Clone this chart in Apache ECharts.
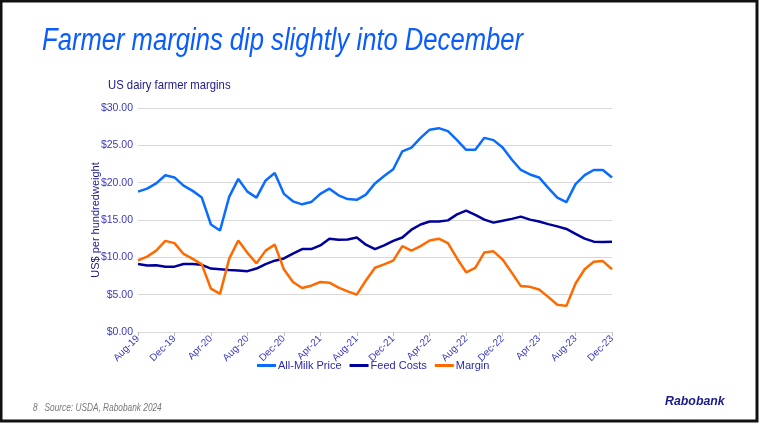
<!DOCTYPE html>
<html>
<head>
<meta charset="utf-8">
<script src="https://cdn.jsdelivr.net/npm/echarts@6/dist/echarts.min.js"></script>
<style>
  html, body { margin: 0; padding: 0; background: #fff; }
  #chart { width: 761px; height: 425px; }
</style>
</head>
<body>
<div id="chart"></div>
<script>
// monthly, Aug-19 .. Dec-23
var months = [
    'Aug-19','Sep-19','Oct-19','Nov-19','Dec-19',
    'Jan-20','Feb-20','Mar-20','Apr-20','May-20','Jun-20','Jul-20','Aug-20','Sep-20','Oct-20','Nov-20','Dec-20',
    'Jan-21','Feb-21','Mar-21','Apr-21','May-21','Jun-21','Jul-21','Aug-21','Sep-21','Oct-21','Nov-21','Dec-21',
    'Jan-22','Feb-22','Mar-22','Apr-22','May-22','Jun-22','Jul-22','Aug-22','Sep-22','Oct-22','Nov-22','Dec-22',
    'Jan-23','Feb-23','Mar-23','Apr-23','May-23','Jun-23','Jul-23','Aug-23','Sep-23','Oct-23','Nov-23','Dec-23'
];
var milkPrice = [
    18.8, 19.2, 19.9, 21.0, 20.7,
    19.6, 18.9, 18.0, 14.4, 13.6, 18.1, 20.5, 18.8, 18.0, 20.3, 21.3, 18.5,
    17.5, 17.1, 17.4, 18.5, 19.2, 18.3, 17.8, 17.7, 18.4, 19.9, 20.9, 21.8,
    24.2, 24.7, 26.0, 27.1, 27.3, 26.9, 25.7, 24.4, 24.4, 26.0, 25.7, 24.7,
    23.1, 21.7, 21.1, 20.7, 19.3, 18.0, 17.4, 19.8, 21.0, 21.7, 21.7, 20.7
];
var feedCosts = [
    9.1, 8.9, 8.95, 8.75, 8.75,
    9.1, 9.1, 9.0, 8.5, 8.4, 8.3, 8.25, 8.15, 8.5, 9.1, 9.55, 9.85,
    10.5, 11.1, 11.1, 11.6, 12.5, 12.35, 12.4, 12.65, 11.7, 11.1, 11.6, 12.2,
    12.65, 13.7, 14.4, 14.8, 14.8, 14.95, 15.75, 16.25, 15.7, 15.05, 14.65, 14.9,
    15.15, 15.45, 15.05, 14.8, 14.45, 14.15, 13.8, 13.15, 12.5, 12.1, 12.05, 12.1
];
var margin = [
    9.6, 10.1, 10.9, 12.2, 11.9,
    10.45, 9.8, 9.05, 5.8, 5.1, 9.8, 12.25, 10.6, 9.2, 10.9, 11.7, 8.4,
    6.7, 5.9, 6.2, 6.7, 6.6, 5.95, 5.45, 5.0, 6.9, 8.6, 9.05, 9.55,
    11.5, 10.9, 11.5, 12.25, 12.5, 11.9, 9.85, 8.0, 8.6, 10.65, 10.8, 9.7,
    7.95, 6.15, 6.05, 5.7, 4.7, 3.65, 3.5, 6.5, 8.4, 9.4, 9.5, 8.4
];

var font = 'Arial, "Liberation Sans", sans-serif';
var chart = echarts.init(document.getElementById('chart'));

var option = {
    backgroundColor: '#ffffff',
    animation: false,
    textStyle: { fontFamily: font },
    graphic: [
        { type: 'rect', shape: { x: 1, y: 1, width: 756, height: 420 },
          style: { fill: 'none', stroke: '#111', lineWidth: 3 }, silent: true },
        // title, squeezed to match the condensed face
        { type: 'text', x: 42, y: 26, scaleX: 0.826, scaleY: 1,
          style: { text: 'Farmer margins dip slightly into December', fill: '#0a5cff',
                   fontSize: 31, fontStyle: 'italic', fontFamily: font } },
        { type: 'text', x: 108, y: 79, scaleX: 0.87,
          style: { text: 'US dairy farmer margins', fill: '#1a1a8a', fontSize: 13, fontFamily: font } },
        { type: 'text', x: 33, y: 403, scaleX: 0.83,
          style: { text: '8   Source: USDA, Rabobank 2024', fill: '#777', fontSize: 10, fontStyle: 'italic', fontFamily: font } },
        { type: 'text', x: 665, y: 395, scaleX: 0.95,
          style: { text: 'Rabobank', fill: '#1a1a8a', fontSize: 13, fontStyle: 'italic', fontWeight: 'bold', fontFamily: font } }
    ],
    legend: {
        top: 355, left: 252,
        itemWidth: 19, itemHeight: 3, itemGap: 8,
        icon: 'rect',
        textStyle: { fontFamily: font, fontSize: 11, color: '#2a2aa8', padding: [0, 0, 0, -3] },
        data: ['All-Milk Price', 'Feed Costs', 'Margin']
    },
    grid: { left: 138, right: 149, top: 108, bottom: 93 },
    xAxis: {
        type: 'category',
        data: months,
        boundaryGap: false,
        axisLine: { lineStyle: { color: '#d9d9d9' } },
        axisTick: { interval: 3, length: 4, lineStyle: { color: '#bfbfbf' } },
        axisLabel: {
            interval: 3, rotate: 45, fontSize: 10, color: '#3a3ac0', margin: 5, fontFamily: font
        }
    },
    yAxis: {
        type: 'value',
        min: 0, max: 30, interval: 5,
        name: 'US$ per hundredweight',
        nameLocation: 'middle',
        nameGap: 37,
        nameMoveOverlap: false,
        nameTextStyle: { fontFamily: font, fontSize: 11, color: '#1a1a8a' },
        axisLine: { show: false },
        axisTick: { show: false },
        axisLabel: {
            fontSize: 10.5, color: '#3a3ac0', margin: 5, fontFamily: font,
            formatter: function (v) { return '$' + v.toFixed(2); }
        },
        splitLine: { lineStyle: { color: '#d9d9d9', width: 1 } }
    },
    series: [{
        name: 'All-Milk Price', type: 'line', data: milkPrice,
        symbol: 'none', lineStyle: { width: 2.5, color: '#0a6cff' }, itemStyle: { color: '#0a6cff' }
    }, {
        name: 'Feed Costs', type: 'line', data: feedCosts,
        symbol: 'none', lineStyle: { width: 2.5, color: '#00009c' }, itemStyle: { color: '#00009c' }
    }, {
        name: 'Margin', type: 'line', data: margin,
        symbol: 'none', lineStyle: { width: 2.5, color: '#ff6a00' }, itemStyle: { color: '#ff6a00' }
    }]
};

chart.setOption(option);
</script>
</body>
</html>
